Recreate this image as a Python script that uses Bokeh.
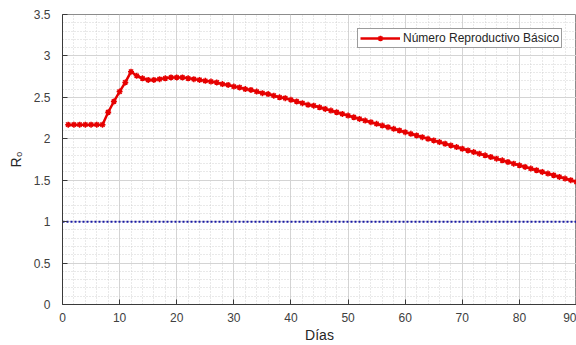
from bokeh.plotting import figure
from bokeh.models import Range1d, SingleIntervalTicker, Legend, LegendItem
from bokeh.embed import file_html
from bokeh.resources import INLINE

# ---- data ----
days = list(range(1, 92))
r0 = [2.17, 2.17, 2.17, 2.17, 2.17, 2.17, 2.17,
      2.32, 2.45, 2.57, 2.68, 2.81, 2.76, 2.73, 2.71, 2.71, 2.72, 2.73, 2.74, 2.74,
      2.74, 2.73, 2.72, 2.71, 2.70, 2.69, 2.68, 2.66, 2.65, 2.63,
      2.62, 2.60, 2.59, 2.57, 2.55, 2.54, 2.52, 2.50, 2.49, 2.47,
      2.45, 2.43, 2.41, 2.40, 2.38, 2.36, 2.34, 2.32, 2.30, 2.28,
      2.26, 2.24, 2.22, 2.20, 2.18, 2.16, 2.14, 2.12, 2.10, 2.08,
      2.06, 2.04, 2.02, 2.00, 1.98, 1.96, 1.94, 1.92, 1.90, 1.88,
      1.86, 1.84, 1.82, 1.80, 1.78, 1.76, 1.74, 1.72, 1.70, 1.68,
      1.66, 1.64, 1.62, 1.60, 1.58, 1.56, 1.54, 1.52, 1.50, 1.48, 1.46]
threshold_x = [0, 95]
threshold_y = [1, 1]
legend_label = "Número Reproductivo Básico"
x_label = "Días"
y_label = "R\u2080"

FONT = "Liberation Sans"

p = figure(width=576, height=345, output_backend="svg", toolbar_location=None,
           x_range=Range1d(0, 90), y_range=Range1d(0, 3.5),
           min_border_left=62, min_border_right=0, min_border_top=14, min_border_bottom=20)
p.background_fill_color = "white"
p.border_fill_color = "white"
p.outline_line_color = "#8c8c8c"
p.outline_line_width = 1

p.xaxis.ticker = SingleIntervalTicker(interval=10, num_minor_ticks=5)
p.yaxis.ticker = SingleIntervalTicker(interval=0.5, num_minor_ticks=5)

for ax in (p.xaxis, p.yaxis):
    ax.axis_line_color = "#3a3a3a"
    ax.axis_line_width = 1
    ax.major_tick_line_color = "#3a3a3a"
    ax.major_tick_in = 5
    ax.major_tick_out = 0
    ax.minor_tick_line_color = None
    ax.major_label_text_font = FONT
    ax.major_label_text_font_size = "12px"
    ax.major_label_text_color = "#404040"
    ax.axis_label_text_font = FONT
    ax.axis_label_text_font_size = "14px"
    ax.axis_label_text_font_style = "normal"
    ax.axis_label_text_color = "#262626"

p.xaxis.axis_label = x_label
p.yaxis.axis_label = y_label
p.xaxis.major_label_standoff = 4
p.xaxis.axis_label_standoff = 2
p.yaxis.major_label_standoff = 8
p.yaxis.axis_label_standoff = 7

for g in (p.xgrid, p.ygrid):
    g.grid_line_color = "#d4d4d4"
    g.grid_line_width = 1
    g.minor_grid_line_color = "#c8c8c8"
    g.minor_grid_line_dash = "1 2"
    g.minor_grid_line_width = 1
    g.minor_grid_line_alpha = 0.8

p.line(threshold_x, threshold_y, line_color="#1a1aa6", line_width=2, line_dash="2 2")

ln = p.line(days, r0, line_color="#e60000", line_width=2.5)
mk = p.scatter(days, r0, marker="asterisk", size=6, line_color="#e60000", line_width=1.5)

legend = Legend(items=[LegendItem(label=legend_label, renderers=[ln, mk])],
                location=(295, 256), margin=0, padding=2, spacing=0,
                glyph_width=40, glyph_height=14, label_standoff=3,
                label_text_font=FONT, label_text_font_size="12px",
                label_text_color="#262626", label_height=14,
                border_line_color="#3a3a3a", border_line_width=1,
                background_fill_color="white", background_fill_alpha=1)
p.add_layout(legend, "center")

open("out.html", "w").write(file_html(p, INLINE))
